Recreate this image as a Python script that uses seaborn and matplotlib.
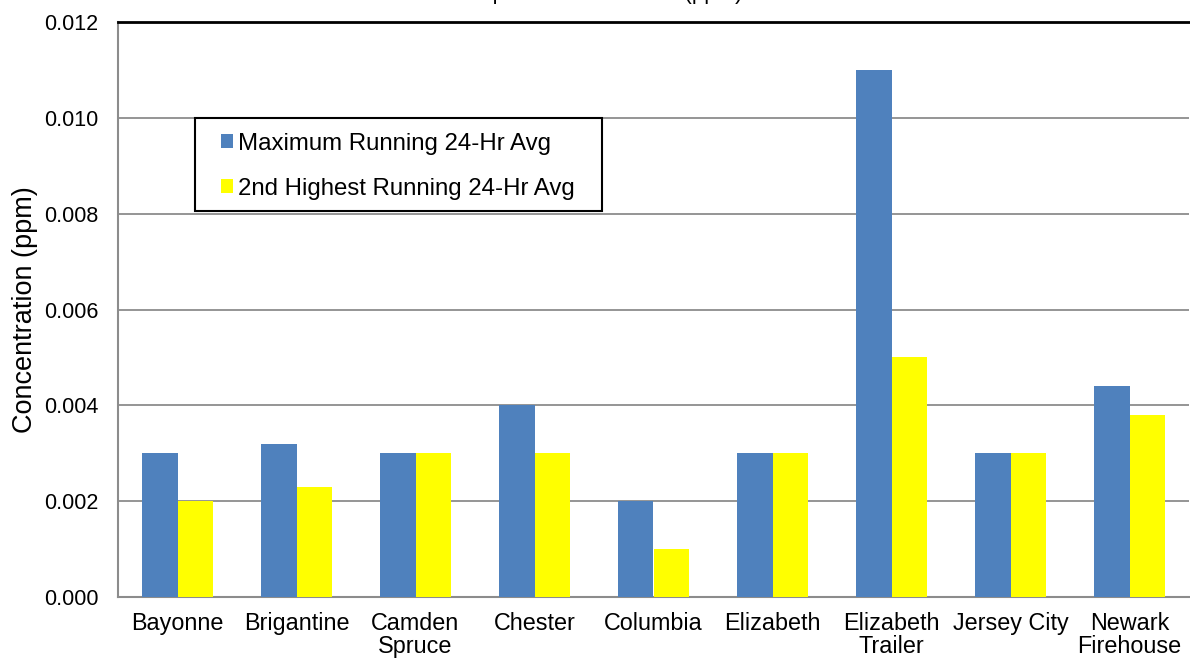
import seaborn as sns
import matplotlib.pyplot as plt
import matplotlib.patches as mpatches
import pandas as pd

# Chart data
sites = ['Bayonne', 'Brigantine', 'Camden\nSpruce', 'Chester', 'Columbia',
         'Elizabeth', 'Elizabeth\nTrailer', 'Jersey City', 'Newark\nFirehouse']
max_avg = [0.003, 0.0032, 0.003, 0.004, 0.002, 0.003, 0.011, 0.003, 0.0044]
second_avg = [0.002, 0.0023, 0.003, 0.003, 0.001, 0.003, 0.005, 0.003, 0.0038]
series_names = ['Maximum Running 24-Hr Avg', '2nd Highest Running 24-Hr Avg']
y_ticks = [0.000, 0.002, 0.004, 0.006, 0.008, 0.010, 0.012]

df = pd.DataFrame({
    'site': sites * 2,
    'value': max_avg + second_avg,
    'series': [series_names[0]] * len(sites) + [series_names[1]] * len(sites),
})

sns.set_style('white')
plt.rcParams['font.family'] = ['Liberation Sans', 'DejaVu Sans']
plt.rcParams['text.color'] = 'black'
plt.rcParams['axes.labelcolor'] = 'black'
plt.rcParams['xtick.labelcolor'] = 'black'
plt.rcParams['ytick.labelcolor'] = 'black'

fig = plt.figure(figsize=(11.9, 6.62), dpi=100)
ax = fig.add_axes([118 / 1190, 1 - 597 / 662, 1071 / 1190, 575 / 662])

sns.barplot(data=df, x='site', y='value', hue='series', order=sites,
            hue_order=series_names, palette=['#4F81BD', '#FFFF00'],
            width=0.6, gap=0, saturation=1, errorbar=None, ax=ax, zorder=3,
            linewidth=0, edgecolor='none')

ax.set_ylim(0, 0.012)
ax.set_xlim(-0.5, len(sites) - 0.5)
ax.set_yticks(y_ticks)
ax.set_yticklabels([f'{v:.3f}' for v in y_ticks])
ax.yaxis.grid(True, color='#8c8c8c', linewidth=1.3, zorder=0)
ax.set_axisbelow(True)

# category labels centred, tick marks between categories
ax.set_xticks(range(len(sites)))
ax.set_xticklabels(sites, linespacing=1.0)
ax.set_xticks([i - 0.5 for i in range(len(sites) + 1)], minor=True)
ax.tick_params(axis='x', which='major', length=0, pad=11, labelsize=16.8)
ax.tick_params(axis='x', which='minor', length=6, width=1.3, color='#8c8c8c', direction='out')
ax.tick_params(axis='y', length=6, width=1.3, color='#8c8c8c', direction='out', labelsize=15.5, pad=8)

ax.set_xlabel('')
ax.set_ylabel('Concentration (ppm)', fontsize=19.5, labelpad=4)

for side in ['left', 'bottom']:
    ax.spines[side].set_color('#8c8c8c')
    ax.spines[side].set_linewidth(1.5)
ax.spines['top'].set_color('black')
ax.spines['top'].set_linewidth(2)
ax.spines['right'].set_visible(False)

# legend: own frame, since the reference pads more sideways than up/down
box = mpatches.Rectangle((0.0719, 0.6713), 0.3800, 0.1617, transform=ax.transAxes,
                         facecolor='white', edgecolor='black', linewidth=1.5, zorder=4)
ax.add_patch(box)
leg = ax.legend(loc='center left', bbox_to_anchor=(0.0962, 0.7490), fontsize=17.3,
                frameon=False, handlelength=0.5, handleheight=0.5, handletextpad=0.2,
                labelspacing=0.96, borderpad=0, borderaxespad=0)
leg.set_zorder(5)

# title sits mostly above the visible area in the reference
fig.text(742 / 1190, 1.0015, 'Maximum Sample Concentrations (ppm)', ha='right',
         va='baseline', fontsize=16)

fig.savefig('out.png', dpi=100)
